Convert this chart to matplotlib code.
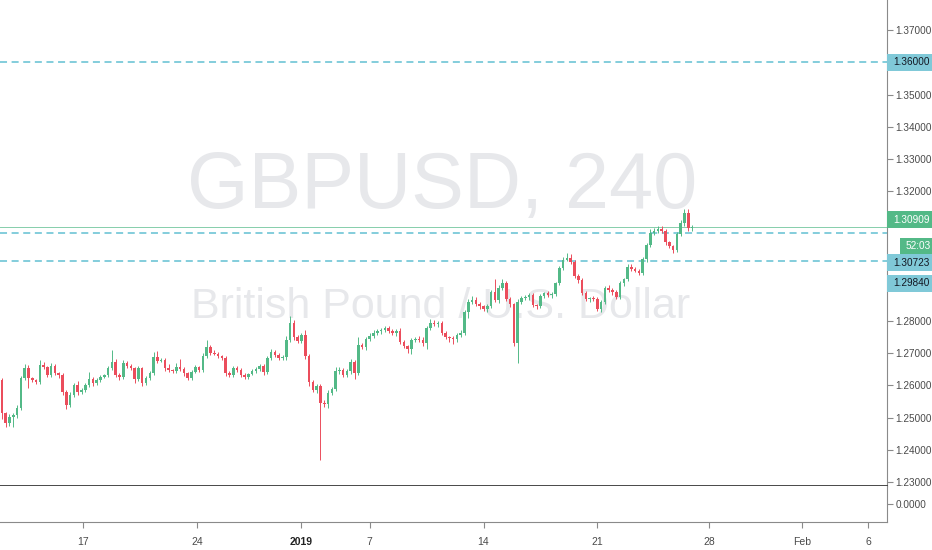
import numpy as np
import matplotlib
matplotlib.use("Agg")
import matplotlib.pyplot as plt
from matplotlib.patches import Rectangle

# ─ DATA (4H candles, GBPUSD) ─
first_open = 1.2616
closes = [
    1.2514, 1.2483, 1.2502, 1.2508, 1.2529, 1.2622, 1.2653, 1.2622, 1.2616, 1.2610,
    1.2663, 1.2656, 1.2632, 1.2659, 1.2638, 1.2632, 1.2579, 1.2539, 1.2570, 1.2601,
    1.2579, 1.2585, 1.2601, 1.2619, 1.2607, 1.2616, 1.2625, 1.2632, 1.2653, 1.2672,
    1.2632, 1.2625, 1.2669, 1.2659, 1.2653, 1.2619, 1.2653, 1.2607, 1.2622, 1.2638,
    1.2687, 1.2675, 1.2678, 1.2653, 1.2647, 1.2644, 1.2656, 1.2650, 1.2638, 1.2622,
    1.2641, 1.2656, 1.2647, 1.2690, 1.2718, 1.2700, 1.2697, 1.2690, 1.2684, 1.2638,
    1.2632, 1.2653, 1.2647,
    1.2632, 1.2625, 1.2635, 1.2644, 1.2650, 1.2659, 1.2641, 1.2684, 1.2703, 1.2693,
    1.2684, 1.2687, 1.2740, 1.2793, 1.2749, 1.2737, 1.2755, 1.2690, 1.2610, 1.2585,
    1.2598, 1.2545, 1.2542, 1.2576, 1.2588, 1.2644, 1.2647, 1.2632, 1.2644, 1.2672,
    1.2638, 1.2724, 1.2718, 1.2743, 1.2752, 1.2762, 1.2768, 1.2771, 1.2777, 1.2768,
    1.2762, 1.2768, 1.2734, 1.2721, 1.2712, 1.2740, 1.2743, 1.2740, 1.2731, 1.2777,
    1.2793, 1.2789, 1.2793, 1.2762, 1.2749, 1.2746, 1.2743, 1.2755, 1.2762, 1.2827,
    1.2858, 1.2864, 1.2851, 1.2845, 1.2836, 1.2845, 1.2889, 1.2864, 1.2901, 1.2916,
    1.2867, 1.2851, 1.2731, 1.2858, 1.2870, 1.2873, 1.2879, 1.2848, 1.2845, 1.2876,
    1.2885, 1.2879, 1.2882, 1.2916, 1.2963, 1.2988, 1.2994, 1.2981, 1.2938, 1.2926,
    1.2885, 1.2867, 1.2870, 1.2867, 1.2836, 1.2858, 1.2901, 1.2895, 1.2889, 1.2873,
    1.2916, 1.2929, 1.2966, 1.2960, 1.2954, 1.2947, 1.2991, 1.3034, 1.3071, 1.3077,
    1.3084, 1.3077, 1.3043, 1.3031, 1.3019, 1.3068, 1.3102, 1.3133, 1.3087, 1.30909,
]
# wick lengths in pips
wick_up = [
    6, 4, 8, 5, 10, 8, 14, 10, 5, 4,
    16, 8, 5, 10, 6, 4, 5, 6, 8, 6,
    12, 5, 6, 22, 8, 5, 6, 4, 8, 36,
    8, 5, 10, 6, 8, 4, 6, 5, 6, 5,
    16, 18, 6, 5, 12, 4, 14, 24, 5, 4,
    6, 8, 5, 10, 22, 6, 8, 5, 4, 6,
    5, 8, 6,
    5, 6, 4, 5, 6, 8, 6, 8, 10, 5,
    6, 8, 14, 20, 10, 6, 8, 16, 6, 5,
    6, 5, 8, 10, 6, 12, 8, 6, 5, 10,
    6, 24, 8, 6, 10, 8, 6, 5, 8, 6,
    5, 6, 8, 5, 4, 6, 5, 8, 10, 6,
    12, 8, 6, 5, 6, 4, 5, 6, 8, 5,
    10, 12, 8, 6, 5, 8, 6, 40, 10, 12,
    8, 6, 5, 10, 6, 5, 8, 6, 5, 6,
    4, 6, 8, 5, 6, 10, 14, 12, 8, 6,
    5, 8, 4, 6, 5, 6, 5, 8, 6, 5,
    6, 4, 8, 10, 6, 5, 6, 8, 12, 10,
    8, 10, 6, 5, 4, 8, 10, 12, 14, 6,
]
wick_dn = [
    20, 12, 10, 30, 8, 6, 5, 30, 6, 5,
    6, 5, 8, 6, 5, 10, 8, 14, 6, 5,
    8, 6, 5, 6, 8, 5, 6, 4, 5, 6,
    5, 8, 6, 5, 6, 12, 5, 8, 6, 5,
    6, 5, 4, 8, 6, 5, 6, 5, 8, 6,
    5, 4, 6, 5, 6, 5, 4, 6, 5, 8,
    6, 5, 5,
    8, 6, 5, 4, 6, 5, 8, 6, 5, 6,
    5, 6, 8, 5, 10, 6, 5, 8, 12, 6,
    8, 176, 10, 12, 6, 5, 8, 6, 5, 8,
    20, 6, 5, 8, 6, 5, 6, 8, 5, 6,
    5, 8, 6, 5, 12, 15, 6, 5, 8, 18,
    6, 5, 8, 6, 5, 12, 15, 8, 6, 5,
    18, 6, 5, 8, 6, 10, 5, 6, 8, 5,
    6, 8, 10, 62, 5, 6, 8, 5, 10, 6,
    5, 6, 8, 5, 6, 5, 4, 6, 5, 8,
    6, 5, 8, 6, 5, 10, 6, 5, 8, 6,
    5, 8, 6, 5, 4, 6, 5, 8, 6, 5,
    6, 5, 8, 6, 10, 5, 6, 8, 10, 8,
]

levels = [1.36000, 1.30723, 1.29840]
last_price = 1.30909
countdown = "52:03"
y_ticks = [1.23, 1.24, 1.25, 1.26, 1.27, 1.28, 1.29, 1.30, 1.31,
           1.32, 1.33, 1.34, 1.35, 1.36, 1.37]
x_tick_pos = [21.5, 51.5, 79, 97, 127, 157, 186.5, 211, 228.5]
x_tick_labels = ["17", "24", "2019", "7", "14", "21", "28", "Feb", "6"]
title_big = "GBPUSD, 240"
title_small = "British Pound / U.S. Dollar"

# ─ STYLE ─
W, H = 932, 550
UP, DOWN = "#53b987", "#eb4d5c"
LEVEL = "#62c0d2"
LABEL_BLUE = "#80c9d8"
TXT = "#4a4a4a"
plt.rcParams["font.family"] = ["Liberation Sans", "DejaVu Sans"]

c = np.array(closes)
o = np.concatenate([[first_open], c[:-1]])
hi = np.maximum(o, c) + np.array(wick_up) / 1e4
lo = np.minimum(o, c) - np.array(wick_dn) / 1e4
x = np.arange(len(c))
cols = np.where(c >= o, UP, DOWN)

fig = plt.figure(figsize=(W / 100, H / 100), dpi=100)
ax = fig.add_axes([0, 64 / H, 887 / W, 486 / H])
ax2 = fig.add_axes([0, 28 / H, 887 / W, 36 / H], sharex=ax)

ax.set_xlim(-0.5, 233.4)
ax.set_ylim(1.2288, 1.3793)

# watermark
ax.text(0.499, 0.615, title_big, transform=ax.transAxes, ha="center", va="center",
        fontsize=57, color="#e7e8eb", zorder=0)
ax.text(0.497, 0.368, title_small, transform=ax.transAxes, ha="center", va="center",
        fontsize=31, color="#e7e8eb", zorder=0)

# candles
ax.vlines(x, lo, hi, colors=cols, lw=0.7, zorder=2)
body = np.maximum(np.abs(c - o), 0.00025)
ax.bar(x, body, bottom=np.minimum(o, c), width=0.68, color=cols, lw=0, zorder=3)

# levels
for lvl in levels:
    ax.axhline(lvl, color=LEVEL, lw=1.1, ls=(0, (4.6, 3.0)), zorder=1)
ax.axhline(last_price, color=UP, lw=0.7, alpha=0.7, zorder=1)

# axes look
for a in (ax, ax2):
    a.spines["top"].set_visible(False)
    a.spines["left"].set_visible(False)
    a.spines["right"].set_color("#8a8a8a")
    a.yaxis.tick_right()
    a.tick_params(axis="y", direction="out", length=4, color="#8a8a8a",
                  labelsize=7.2, labelcolor=TXT, pad=2)
ax.spines["bottom"].set_color("#2a2a2a")
ax.spines["bottom"].set_linewidth(1.2)
ax2.spines["bottom"].set_color("#8a8a8a")
ax.tick_params(axis="x", bottom=False, labelbottom=False)

ax2.set_ylim(-1, 1)
ax2.set_yticks([0])
ax2.set_yticklabels(["0.0000"])
ax2.set_xticks(x_tick_pos)
ax2.set_xticklabels(x_tick_labels)
ax2.tick_params(axis="x", direction="out", length=4, color="#8a8a8a",
                labelsize=7.5, labelcolor=TXT, pad=7)
for t in ax2.get_xticklabels():
    if t.get_text() == "2019":
        t.set_fontweight("bold")
        t.set_color("#222222")


# ─ PRICE LABELS (right scale) ─
def price_px(p):
    return H - ax.transData.transform((0, p))[1]


boxes = []


def label(yc, text, fc, tc, x0=887, h=17):
    fig.add_artist(Rectangle((x0 / W, 1 - (yc + h / 2) / H), (W - x0) / W, h / H,
                             transform=fig.transFigure, fc=fc, ec="none", zorder=5))
    fig.text((x0 + 6) / W, 1 - yc / H, text, ha="left", va="center",
             fontsize=7.2, color=tc, zorder=6)
    boxes.append((yc - h / 2 - 4, yc + h / 2 + 4))


label(price_px(levels[0]), f"{levels[0]:.5f}", LABEL_BLUE, "#131722")
label(price_px(last_price) - 7, f"{last_price:.5f}", UP, "white")
label(price_px(last_price) + 19, countdown, UP, "white", x0=900, h=16)
label(price_px(levels[1]) + 30, f"{levels[1]:.5f}", LABEL_BLUE, "#131722")
label(price_px(levels[2]) + 22, f"{levels[2]:.5f}", LABEL_BLUE, "#131722")

# tick labels hidden behind the price labels are left out
ax.set_yticks(y_ticks)
ax.set_yticklabels(["" if any(b0 < price_px(v) < b1 for b0, b1 in boxes)
                    else f"{v:.5f}" for v in y_ticks])

fig.savefig("out.png", dpi=100, facecolor="white")
